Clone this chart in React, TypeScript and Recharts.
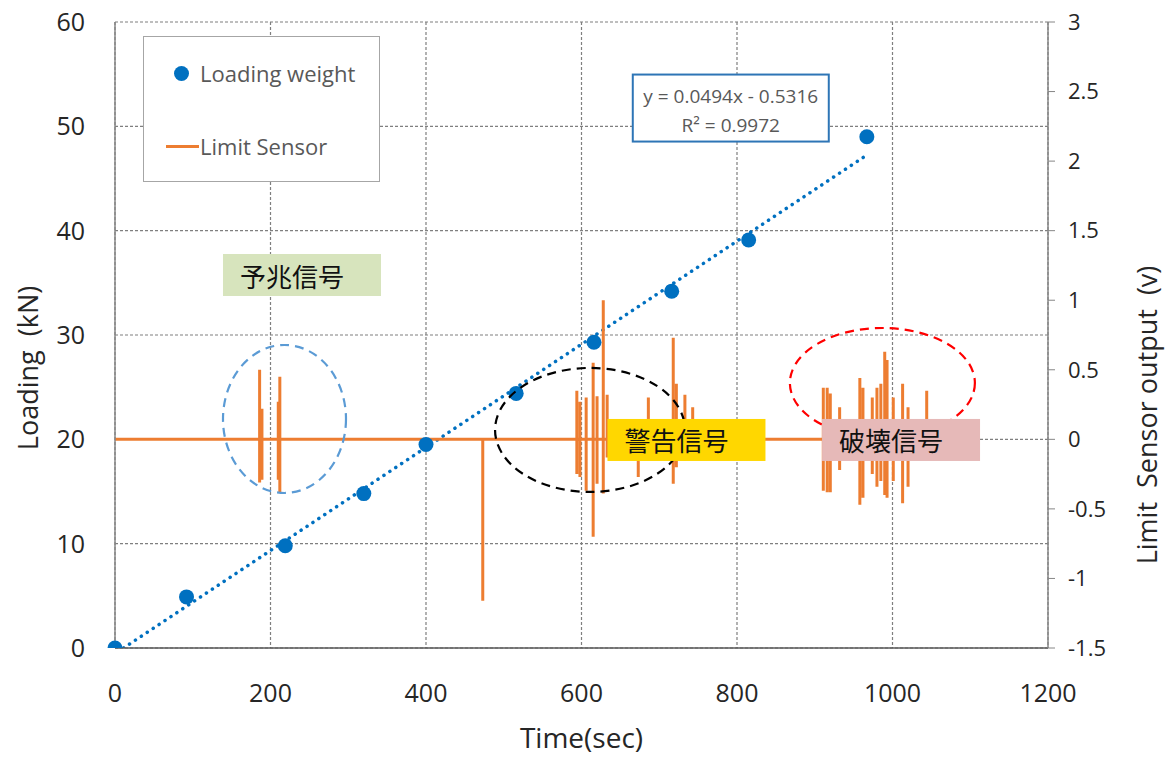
import React from 'react';
import { ComposedChart, Line, Scatter, XAxis, YAxis, CartesianGrid, Legend, ReferenceDot } from 'recharts';

// axis ticks
const timeTicks = [0, 200, 400, 600, 800, 1000, 1200];
const loadTicks = [0, 10, 20, 30, 40, 50, 60];
const voltTicks = [-1.5, -1, -0.5, 0, 0.5, 1, 1.5, 2, 2.5, 3];

// loading weight (kN) vs time (sec)
const loadTimes = [0, 92, 219, 320, 400, 516, 616, 716, 815, 967];
const loadValues = [0, 4.9, 9.8, 14.8, 19.5, 24.4, 29.3, 34.2, 39.1, 49.0];

// linear trend line end points
const trendTimes = [11, 968];
const trendValues = [0, 47.3];

// limit sensor pulses: time, peak high, peak low (v)
const sensorTimes = [186, 189, 210, 212, 473, 594, 598, 606, 615, 620, 628, 633, 673, 686, 718, 722, 733, 743, 911, 916, 920, 932, 958, 962, 974, 980, 985, 990, 993, 1001, 1013, 1020, 1044];
const sensorHigh = [0.5, 0.22, 0.27, 0.45, 0, 0.35, 0.27, 0.3, 0.55, 0.31, 1.0, 0.32, 0.05, 0.3, 0.73, 0.4, 0.32, 0.23, 0.37, 0.37, 0.33, 0.23, 0.44, 0.37, 0.3, 0.37, 0.4, 0.63, 0.57, 0.3, 0.4, 0.23, 0.35];
const sensorLow = [-0.31, -0.29, -0.29, -0.38, -1.16, -0.25, -0.27, -0.37, -0.7, -0.32, -0.39, -0.13, -0.27, -0.05, -0.32, -0.2, -0.15, -0.1, -0.37, -0.38, -0.38, -0.22, -0.47, -0.42, -0.25, -0.34, -0.3, -0.4, -0.42, -0.3, -0.46, -0.34, -0.1];
const sensorStart = 0;
const sensorEnd = 1060;

// annotation texts
const signalLabels = ['予兆信号', '警告信号', '破壊信号'];
const fitText = ['y = 0.0494x - 0.5316', 'R² = 0.9972'];
const seriesNames = ['Loading weight', 'Limit Sensor'];

const FONT = '"Open Sans", "Noto Sans", sans-serif';
const CJK = '"Noto Sans CJK JP", sans-serif';
const BLUE = '#0070c0';
const ORANGE = '#ed7d31';
const GRID = '#7f7f7f';
const TEXT = '#262626';

const loadData = loadTimes.map((t, i) => ({ t, load: loadValues[i] }));
const trendData = trendTimes.map((t, i) => ({ t, fit: trendValues[i] }));
const sensorData: { t: number; v: number }[] = [{ t: sensorStart, v: 0 }];
sensorTimes.forEach((t, i) => {
  sensorData.push({ t, v: 0 }, { t, v: sensorHigh[i] }, { t, v: sensorLow[i] }, { t, v: 0 });
});
sensorData.push({ t: sensorEnd, v: 0 });

// dashed ellipses marking the pulse groups
const Ellipse = ({ cx, cy, rx, ry, color }: any) => (
  <ellipse cx={cx} cy={cy} rx={rx} ry={ry} fill="none" stroke={color} strokeWidth={2.2} strokeDasharray="9 6" />
);

// coloured text boxes
const Tag = ({ cx, cy, text, fill }: any) => (
  <g>
    <rect x={cx - 79} y={cy - 21} width={158} height={42} fill={fill} />
    <text x={cx - 62} y={cy} dominantBaseline="central" fontSize={26} fontFamily={CJK} fill="#111">
      {text}
    </text>
  </g>
);

const FitBox = ({ cx, cy }: any) => (
  <g>
    <rect x={cx - 98} y={cy - 33} width={196} height={67} fill="#fff" stroke="#2e75b6" strokeWidth={2} />
    <text x={cx} y={cy - 12} textAnchor="middle" dominantBaseline="central" fontSize={19} fontFamily={FONT} fill="#595959">
      {fitText[0]}
    </text>
    <text x={cx} y={cy + 17} textAnchor="middle" dominantBaseline="central" fontSize={19} fontFamily={FONT} fill="#595959">
      {fitText[1]}
    </text>
  </g>
);

const AxisTitle = ({ viewBox, text, offX, offY }: any) => {
  const x = viewBox.x + offX;
  const y = viewBox.y + viewBox.height / 2 + offY;
  return (
    <text
      x={x}
      y={y}
      textAnchor="middle"
      dominantBaseline="central"
      transform={`rotate(-90, ${x}, ${y})`}
      fontSize={27}
      fontFamily={FONT}
      fill={TEXT}
      style={{ whiteSpace: 'pre' }}
    >
      {text}
    </text>
  );
};

const XTitle = ({ viewBox }: any) => (
  <text x={viewBox.x + viewBox.width / 2} y={748} textAnchor="middle" fontSize={28} fontFamily={FONT} fill={TEXT}>
    Time(sec)
  </text>
);

const LegendBox = () => (
  <div
    style={{
      width: 237,
      height: 146,
      border: '1.5px solid #a6a6a6',
      background: '#fff',
      boxSizing: 'border-box',
      position: 'relative',
      fontFamily: FONT,
      fontSize: 22,
      color: '#595959',
    }}
  >
    <div style={{ position: 'absolute', left: 30, top: 29, width: 15, height: 15, borderRadius: '50%', background: BLUE }} />
    <div style={{ position: 'absolute', left: 56, top: 20, lineHeight: '32px' }}>{seriesNames[0]}</div>
    <div style={{ position: 'absolute', left: 22, top: 108, width: 33, height: 3, background: ORANGE }} />
    <div style={{ position: 'absolute', left: 56, top: 93, lineHeight: '32px' }}>{seriesNames[1]}</div>
  </div>
);

export default function App() {
  return (
    <div style={{ position: 'absolute', left: 0, top: 0, background: '#fff' }}>
      <ComposedChart width={1171} height={758} margin={{ top: 22, right: 0, bottom: 0, left: 0 }}>
        <CartesianGrid yAxisId="left" stroke={GRID} strokeDasharray="3 2" strokeWidth={1.2} />
        <XAxis
          dataKey="t"
          type="number"
          domain={[0, 1200]}
          ticks={timeTicks}
          height={110}
          tickLine={false}
          tickSize={0}
          tickMargin={36}
          axisLine={{ stroke: '#595959', strokeWidth: 1.5 }}
          tick={{ fontSize: 25, fill: TEXT, fontFamily: FONT }}
          label={<XTitle />}
        />
        <YAxis
          yAxisId="left"
          type="number"
          domain={[0, 60]}
          ticks={loadTicks}
          allowDataOverflow
          width={115}
          tickLine={false}
          tickSize={0}
          tickMargin={30}
          axisLine={{ stroke: '#868686', strokeWidth: 1.5 }}
          tick={{ fontSize: 25, fill: TEXT, fontFamily: FONT }}
          label={<AxisTitle text="Loading  (kN)" offX={27} offY={33} />}
        />
        <YAxis
          yAxisId="right"
          orientation="right"
          type="number"
          domain={[-1.5, 3]}
          ticks={voltTicks}
          allowDataOverflow
          width={123}
          tickSize={7}
          tickMargin={13}
          tickLine={{ stroke: '#868686' }}
          axisLine={{ stroke: '#868686', strokeWidth: 1.5 }}
          tick={{ fontSize: 22, fill: TEXT, fontFamily: FONT }}
          label={<AxisTitle text="Limit  Sensor output  (v)" offX={98} offY={80} />}
        />
        <Legend layout="vertical" align="center" verticalAlign="middle" content={<LegendBox />} wrapperStyle={{ left: 143, top: 36, width: 237, height: 146 }} />
        <Scatter
          yAxisId="left"
          name={seriesNames[0]}
          data={loadData}
          dataKey="load"
          isAnimationActive={false}
          shape={(p: any) => <circle cx={p.cx} cy={p.cy} r={7.5} fill={BLUE} />}
        />
        <Line
          yAxisId="left"
          data={trendData}
          dataKey="fit"
          stroke={BLUE}
          strokeWidth={3.5}
          strokeDasharray="0.1 7"
          strokeLinecap="round"
          dot={false}
          activeDot={false}
          legendType="none"
          isAnimationActive={false}
        />
        <Line
          yAxisId="right"
          name={seriesNames[1]}
          data={sensorData}
          dataKey="v"
          type="linear"
          stroke={ORANGE}
          strokeWidth={3}
          dot={false}
          activeDot={false}
          isAnimationActive={false}
        />
        <ReferenceDot yAxisId="left" x={218} y={21.95} r={0} shape={(p: any) => <Ellipse cx={p.cx} cy={p.cy} rx={61.5} ry={74} color="#5b9bd5" />} />
        <ReferenceDot yAxisId="left" x={611} y={20.9} r={0} shape={(p: any) => <Ellipse cx={p.cx} cy={p.cy} rx={95} ry={62} color="#000" />} />
        <ReferenceDot yAxisId="left" x={987} y={25.4} r={0} shape={(p: any) => <Ellipse cx={p.cx} cy={p.cy} rx={92.5} ry={55} color="#ff0000" />} />
        <ReferenceDot yAxisId="left" x={240.5} y={35.75} r={0} shape={(p: any) => <Tag cx={p.cx} cy={p.cy} text={signalLabels[0]} fill="#d7e4bd" />} />
        <ReferenceDot yAxisId="left" x={735} y={19.94} r={0} shape={(p: any) => <Tag cx={p.cx} cy={p.cy} text={signalLabels[1]} fill="#ffd700" />} />
        <ReferenceDot yAxisId="left" x={1011} y={19.94} r={0} shape={(p: any) => <Tag cx={p.cx} cy={p.cy} text={signalLabels[2]} fill="#e6b9b8" />} />
        <ReferenceDot yAxisId="left" x={792} y={51.8} r={0} shape={(p: any) => <FitBox cx={p.cx} cy={p.cy} />} />
      </ComposedChart>
    </div>
  );
}
